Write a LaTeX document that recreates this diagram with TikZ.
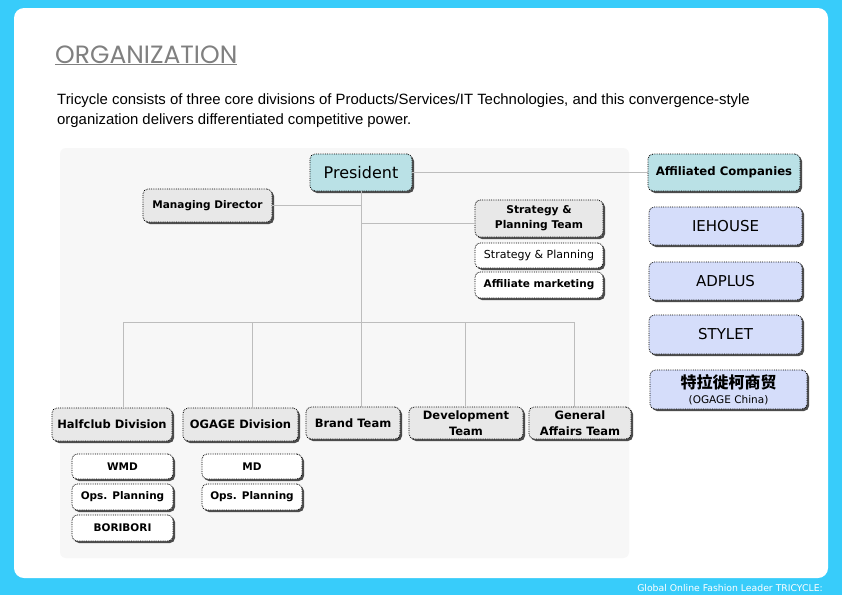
\documentclass[tikz,border=0pt]{standalone}
\usepackage{fontspec}
\setmainfont{DejaVu Sans}
\newfontfamily\arialfont{Liberation Sans}
\newfontfamily\titlefont{Poppins}
\newfontfamily\cjkfont{Noto Sans CJK SC}
\usetikzlibrary{shadows}

\definecolor{bgcyan}{HTML}{38CCFA}
\definecolor{panelgray}{HTML}{F7F7F7}
\definecolor{tealbox}{HTML}{BAE1E6}
\definecolor{graybox}{HTML}{E8E8E8}
\definecolor{lavbox}{HTML}{D5DDFA}
\definecolor{linegray}{HTML}{BDBDBD}
\definecolor{titlegray}{HTML}{808080}

\begin{document}
\begin{tikzpicture}[x=1pt, y=-1pt]
\tikzstyle{box}=[rectangle, rounded corners=5pt, draw=black, line width=0.8pt, densely dotted, inner sep=1pt, align=center, drop shadow={shadow xshift=2pt, shadow yshift=-2pt, fill=black!70, opacity=1}]
\tikzstyle{topbox}=[box, fill=tealbox]
\tikzstyle{unitbox}=[box, fill=graybox, font=\bfseries\fontsize{11.5}{16}\selectfont]
\tikzstyle{subbox}=[box, fill=white, font=\bfseries\fontsize{10.5}{12}\selectfont]
\tikzstyle{compbox}=[box, fill=lavbox, minimum width=153pt, minimum height=38pt, font=\fontsize{15}{17}\selectfont]
\tikzstyle{link}=[draw=linegray, line width=0.8pt]

% page and panels
\fill[bgcyan] (0,0) rectangle (842,595);
\useasboundingbox (0,0) rectangle (842,595);
\fill[white, rounded corners=10pt] (14,8) rectangle (828,578);
\fill[panelgray, rounded corners=6pt] (60,148) rectangle (629,558);

\node[anchor=base west, inner sep=0pt, text=titlegray, font=\titlefont\fontsize{25}{28}\selectfont] (title) at (55,63) {\underline{ORGANIZATION}};
\node[anchor=base west, inner sep=0pt, font=\arialfont\fontsize{14.9}{20}\selectfont] (intro1) at (57,104) {Tricycle consists of three core divisions of Products/Services/IT Technologies, and this convergence-style};
\node[anchor=base west, inner sep=0pt, font=\arialfont\fontsize{14.9}{20}\selectfont] (intro2) at (57,124) {organization delivers differentiated competitive power.};
\node[anchor=base east, inner sep=0pt, text=white, font=\fontsize{9.3}{11}\selectfont] (footer) at (823,591) {Global Online Fashion Leader TRICYCLE:};

% top of the chart
\node[topbox, minimum width=102pt, minimum height=37pt, font=\fontsize{16}{18}\selectfont] (pres) at (361,172.5) {President};
\node[topbox, minimum width=152pt, minimum height=37pt, font=\bfseries\fontsize{11.7}{13}\selectfont] (affil) at (724,172.5) {Affiliated Companies};
\node[unitbox, minimum width=129pt, minimum height=33pt, font=\bfseries\fontsize{10.5}{12}\selectfont] (mdir) at (207.5,205.5) {Managing Director};
\node[unitbox, minimum width=128pt, minimum height=37pt, font=\bfseries\fontsize{10.7}{15}\selectfont] (spteam) at (539,218.5) {Strategy \&\\Planning Team};
\node[subbox, minimum width=128pt, minimum height=25pt, font=\fontsize{11}{12}\selectfont] (sp) at (539,255.5) {Strategy \& Planning};
\node[subbox, minimum width=128pt, minimum height=26pt] (am) at (539,285) {Affiliate marketing};

% affiliated companies
\node[compbox] (iehouse) at (725.5,226) {IEHOUSE};
\node[compbox] (adplus) at (725.5,281) {ADPLUS};
\node[compbox, minimum height=39pt] (stylet) at (725.5,334.5) {STYLET};
\node[compbox, minimum width=157pt, minimum height=39pt] (ogcn) at (728.5,389.5) {{\cjkfont\bfseries\fontsize{16}{18}\selectfont 特拉徙柯商贸}\\[-2pt]{\fontsize{10.5}{12}\selectfont (OGAGE China)}};

% divisions and teams
\node[unitbox, minimum width=120pt, minimum height=33pt] (half) at (112,424.5) {Halfclub Division};
\node[unitbox, minimum width=115pt, minimum height=33pt] (ogdiv) at (240.5,424.5) {OGAGE Division};
\node[unitbox, minimum width=94pt, minimum height=32pt] (brand) at (353,423) {Brand Team};
\node[unitbox, minimum width=114pt, minimum height=32pt] (dev) at (466,423) {Development\\Team};
\node[unitbox, minimum width=102pt, minimum height=32pt] (ga) at (580,423) {General\\Affairs Team};

\node[subbox, minimum width=101pt, minimum height=25pt] (wmd) at (122.5,466.5) {WMD};
\node[subbox, minimum width=101pt, minimum height=26pt] (ops1) at (122.5,497) {Ops. Planning};
\node[subbox, minimum width=101pt, minimum height=26pt] (bori) at (122.5,528) {BORIBORI};
\node[subbox, minimum width=100pt, minimum height=25pt] (mdd) at (252,466.5) {MD};
\node[subbox, minimum width=100pt, minimum height=26pt] (ops2) at (252,497) {Ops. Planning};

% connectors
\coordinate (bus) at (361,322);
\coordinate (d1) at (123,322);
\coordinate (d2) at (252,322);
\coordinate (d4) at (465,322);
\coordinate (d5) at (574,322);
\draw[link] (pres) -- (affil);
\draw[link] (pres) -- (bus);
\draw[link] (mdir.east) -- (mdir.east -| bus);
\draw[link] ([yshift=-4.5pt]spteam.west) -- ([yshift=-4.5pt]spteam.west -| bus);
\draw[link] (d1) -- (d5);
\draw[link] (d1) -- (d1 |- half.north);
\draw[link] (d2) -- (d2 |- ogdiv.north);
\draw[link] (bus) -- (bus |- brand.north);
\draw[link] (d4) -- (d4 |- dev.north);
\draw[link] (d5) -- (d5 |- ga.north);
\end{tikzpicture}
\end{document}
